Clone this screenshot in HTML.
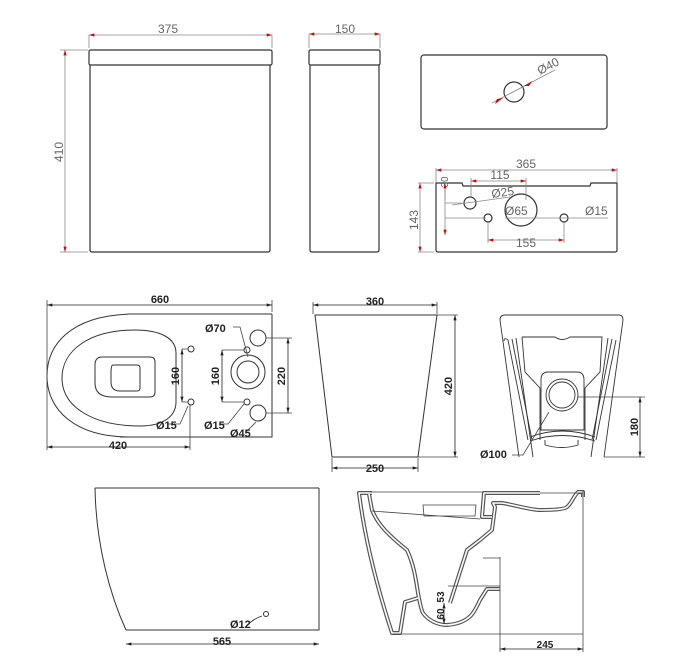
<!DOCTYPE html>
<html><head><meta charset="utf-8"><style>
html,body{margin:0;padding:0;background:#fff}
svg{display:block}
text{font-family:"Liberation Sans",sans-serif}
</style></head><body>
<svg width="695" height="672" viewBox="0 0 695 672" xmlns="http://www.w3.org/2000/svg">
<defs>
<marker id="r" viewBox="0 0 10 6" refX="10" refY="3" markerWidth="8" markerHeight="4" orient="auto-start-reverse"><path d="M0,0L10,3L0,6z" fill="#d00"/></marker>
<marker id="k" viewBox="0 0 10 6" refX="10" refY="3" markerWidth="7" markerHeight="4" orient="auto-start-reverse"><path d="M0,0L10,3L0,6z" fill="#222"/></marker>
</defs>
<g fill="none" stroke="#333" stroke-width="1.2">
<rect x="89" y="50" width="183" height="15" rx="1.5"/>
<path d="M90,65V250q0,2 2,2H268q2,0 2-2V65"/>
<rect x="309" y="50" width="71" height="15" rx="1.5"/>
<path d="M310,65V250q0,2 2,2H377q2,0 2-2V65"/>
<rect x="421" y="55" width="186" height="74" rx="3"/>
<circle cx="514" cy="92" r="10"/>
<path d="M436,183H462L463,186H590L591,183H617V250q0,2-2,2H438q-2,0-2-2Z"/>
<circle cx="470" cy="203" r="6"/>
<circle cx="521" cy="210" r="16"/>
<circle cx="488" cy="218" r="4"/>
<circle cx="564" cy="218" r="4"/>
</g>
<g stroke="#888" stroke-width="0.8" fill="none">
<path d="M89,35V48M272,35V48M309,34V48M380,34V48M60,50H88M60,252H88"/>
<path d="M436,168V182M617,168V182M418,183H434M418,252H434M488,222V243M564,222V243M526,178V200M471,178V196M445,186V200M445,218H486M445,203H462"/>
</g>
<g stroke="#888" stroke-width="0.8" fill="none" marker-start="url(#r)" marker-end="url(#r)">
<line x1="89" y1="35" x2="272" y2="35"/>
<line x1="309" y1="34" x2="380" y2="34"/>
<line x1="65" y1="50" x2="65" y2="252"/>
<line x1="436" y1="170" x2="617" y2="170"/>
<line x1="420" y1="183" x2="420" y2="252"/>
<line x1="471" y1="181" x2="526" y2="181"/>
<line x1="488" y1="240" x2="564" y2="240"/>
<line x1="445" y1="183" x2="445" y2="235"/>
</g>
<g stroke="#888" stroke-width="0.8">
<line x1="492" y1="103" x2="555" y2="70"/>
<line x1="452" y1="205" x2="510" y2="197"/>
<line x1="505" y1="218" x2="608" y2="218"/>
</g>
<g fill="#d00"><path d="M503,98l-8,6 2,-5z M524,86l8,-5 -3,5z"/></g>
<g fill="#666" font-size="12">
<text x="168" y="33" text-anchor="middle">375</text>
<text x="345" y="33" text-anchor="middle">150</text>
<text x="63" y="152" text-anchor="middle" transform="rotate(-90 63 152)">410</text>
<text x="540" y="75" transform="rotate(-28 540 75)">Ø40</text>
<text x="526" y="168" text-anchor="middle">365</text>
<text x="418" y="220" text-anchor="middle" transform="rotate(-90 418 220)">143</text>
<text x="448" y="182" text-anchor="middle" transform="rotate(-90 448 182)" font-size="10">30</text>
<text x="500" y="179" text-anchor="middle">115</text>
<text x="492" y="198" transform="rotate(-8 492 198)">Ø25</text>
<text x="505" y="215">Ø65</text>
<text x="585" y="215">Ø15</text>
<text x="526" y="247" text-anchor="middle">155</text>
</g>

<g fill="none" stroke="#333" stroke-width="1">
<path d="M272,314V437H120"/>
<path d="M272,314H130C70,316 47,345 47,376C47,410 75,437 130,437"/>
<path d="M135,330C90,330 62,350 62,378C62,408 95,426 140,426C165,426 176,415 176,402V353C176,338 160,330 135,330Z"/>
<path d="M102,357H150q5,0 5,5V392q0,5-5,5H112q-17,0-17-14V365q0-8 7-8Z"/>
<path d="M113,365H137q3,0 3,3V388q0,3-3,3H120q-9,0-9-9V372q0-7 2-7Z"/>
<circle cx="191" cy="349" r="3"/><circle cx="191" cy="402" r="3"/>
<circle cx="258" cy="338" r="8"/><circle cx="258" cy="413" r="8"/>
<circle cx="248" cy="372" r="17"/><circle cx="248" cy="372" r="11"/>
<circle cx="247" cy="350" r="3"/><circle cx="247" cy="402" r="3"/>
</g>
<g stroke="#444" stroke-width="0.8" fill="none">
<path d="M47,300V450M272,300V312M190,405V450M182,349H188M182,402H188M222,350H244M222,402H244M266,338H292M266,413H292"/>
<path d="M168,424H180L188,406M220,424H228L244,404M246,432L256,422M233,327H240L248,357"/>
</g>
<g stroke="#222" stroke-width="0.8" marker-start="url(#k)" marker-end="url(#k)">
<line x1="47" y1="305" x2="272" y2="305"/>
<line x1="47" y1="447" x2="190" y2="447"/>
<line x1="182" y1="349" x2="182" y2="402"/>
<line x1="222" y1="350" x2="222" y2="402"/>
<line x1="288" y1="338" x2="288" y2="413"/>
</g>
<g fill="#222" font-size="11" font-weight="bold">
<text x="160" y="303" text-anchor="middle">660</text>
<text x="118" y="449" text-anchor="middle">420</text>
<text x="179" y="376" text-anchor="middle" transform="rotate(-90 179 376)">160</text>
<text x="219" y="376" text-anchor="middle" transform="rotate(-90 219 376)">160</text>
<text x="285" y="376" text-anchor="middle" transform="rotate(-90 285 376)">220</text>
<text x="156" y="429">Ø15</text>
<text x="204" y="429">Ø15</text>
<text x="230" y="437">Ø45</text>
<text x="205" y="332">Ø70</text>
</g>

<g fill="none" stroke="#333" stroke-width="1">
<path d="M315,315H437L418,457H332Z"/>
</g>
<g stroke="#444" stroke-width="0.8" fill="none"><path d="M437,315H458M418,457H458M332,458V472M418,458V472M313,302V314M437,302V314"/></g>
<g stroke="#222" stroke-width="0.8" marker-start="url(#k)" marker-end="url(#k)">
<line x1="313" y1="305" x2="437" y2="305"/>
<line x1="455" y1="315" x2="455" y2="457"/>
<line x1="332" y1="468" x2="418" y2="468"/>
</g>
<g fill="#222" font-size="11" font-weight="bold">
<text x="375" y="305" text-anchor="middle">360</text>
<text x="452" y="386" text-anchor="middle" transform="rotate(-90 452 386)">420</text>
<text x="375" y="472" text-anchor="middle">250</text>
</g>

<g fill="none" stroke="#333" stroke-width="0.9">
<path d="M519,457L500,320q0-5 5-5H619q4,0 4,5L604,457"/>
<path d="M508,340L528,440M512,339L532,440M504,341q0-4 4-1"/>
<path d="M616,340L596,440M612,339L592,440"/>
<path d="M516,338L533,457M608,338L591,457"/>
<path d="M522,337H555Q562,342 570,337H602L600,372L585,388V440M522,337L525,372L540,388V440"/>
<path d="M548,372H577Q584,372 584,380V430H541V380Q541,372 548,372Z"/>
<path d="M530,437Q562,425 595,437M530,441Q562,430 595,441"/>
<path d="M545,445Q562,450 578,445V440M545,440V445"/>
<circle cx="562" cy="395" r="16"/><circle cx="562" cy="395" r="13"/>
</g>
<g stroke="#444" stroke-width="0.8" fill="none"><path d="M578,397H645M604,457H645M512,455H523L549,412"/></g>
<g stroke="#222" stroke-width="0.8" marker-start="url(#k)" marker-end="url(#k)">
<line x1="640" y1="397" x2="640" y2="457"/>
</g>
<g fill="#222" font-size="11" font-weight="bold">
<text x="638" y="427" text-anchor="middle" transform="rotate(-90 638 427)">180</text>
<text x="480" y="458">Ø100</text>
</g>

<g fill="none" stroke="#333" stroke-width="1">
<path d="M319,488V630H126M95,488H319M95,488C96,545 110,595 126,630"/>
<circle cx="266" cy="614" r="2.5"/>
</g>
<g stroke="#222" stroke-width="0.8" fill="none"><path d="M247,625Q255,618 262,616"/></g>
<g stroke="#222" stroke-width="0.8" marker-start="url(#k)" marker-end="url(#k)">
<line x1="126" y1="644" x2="319" y2="644"/>
</g>
<g fill="#222" font-size="11" font-weight="bold">
<text x="222" y="645" text-anchor="middle">565</text>
<text x="230" y="628">Ø12</text>
</g>

<!-- section -->
<g id="sec" fill="none" stroke-linejoin="round">
<path id="s1" d="M372,493H359C365,540 378,590 392,633H400L405,602L418,598"/>
<path id="s2" d="M369,494L372,510C376,520 382,530 407,550C414,565 416,580 418,593C420,603 421,610 423,613C428,620 437,625 447,625C460,624 468,620 473,613C477,607 479,602 480,600L487,589H500"/>
<path id="s3" d="M450,603L467,550L480,540L492,530L495,507L493,503L502,503C515,505 530,510 540,510C555,510 565,509 567,507C572,503 573,497 578,492H583V497"/>
<path id="s4" d="M483,558H500M480,547L483,558"/>
<path id="s5" d="M540,493H484L482,517H492"/>
</g>
<g fill="none" stroke-linejoin="round" stroke="#555" stroke-width="4">
<use href="#s1"/><use href="#s2"/><use href="#s3"/><use href="#s5"/>
</g>
<g fill="none" stroke-linejoin="round" stroke="#fff" stroke-width="1.6">
<use href="#s1"/><use href="#s2"/><use href="#s3"/><use href="#s5"/>
</g>
<g fill="none" stroke="#444" stroke-width="0.8">
<path d="M372,511L480,519M423,505H476L475,516H424Z M370,492H484M540,493H583"/>
<path d="M393,634H583M583,490V652M500,557V652M448,586H500M483,558H500"/>
</g>
<g stroke="#222" stroke-width="0.8" marker-start="url(#k)" marker-end="url(#k)">
<line x1="500" y1="649" x2="583" y2="649"/>
<line x1="444" y1="603" x2="444" y2="624"/>
</g>
<g fill="#222" font-size="10" font-weight="bold">
<text x="545" y="648" text-anchor="middle">245</text>
<text x="444" y="597" text-anchor="middle" transform="rotate(-90 444 597)">53</text>
<text x="444" y="614" text-anchor="middle" transform="rotate(-90 444 614)">60</text>
</g>
</svg>
</body></html>
